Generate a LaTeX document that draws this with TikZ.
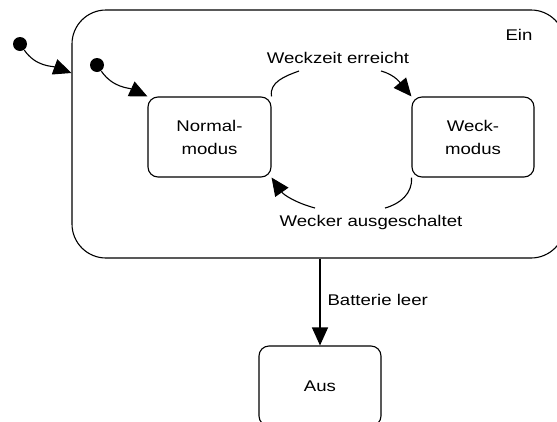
\documentclass[tikz,border=0pt]{standalone}
\usepackage{fontspec}
\setmainfont{Liberation Sans}[FakeStretch=1.2]
\usetikzlibrary{arrows.meta}
\begin{document}
\begin{tikzpicture}[x=1pt,y=1pt,
  line width=1.1pt,
  every node/.style={font=\fontsize{15.5}{23}\selectfont},
  state/.style={draw, rounded corners=10pt, minimum width=123pt, minimum height=80pt, align=center},
  superstate/.style={draw, rounded corners=34pt, minimum width=493pt, minimum height=248pt},
  startdot/.style={circle, fill, inner sep=0pt, minimum size=14pt},
  arr/.style={-{Triangle[length=18pt,width=16pt]}},
  lbl/.style={inner sep=1pt}]
  \useasboundingbox (0,0) rectangle (557,-421);
  \begin{scope}
    \clip (0,0) rectangle (557,-421);
    % composite state "Ein"
    \node[superstate] (ein) at (318.5,-134) {};
    % final state "Aus"
    \node[state, minimum width=122pt] (aus) at (320,-386) {Aus};
  \end{scope}
  \node[lbl] (einlabel) at (519,-35) {Ein};

  % inner states
  \node[state] (normal) at (209.5,-137) {Normal-\\modus};
  \node[state, minimum width=122pt] (weck) at (473,-137) {Weck-\\modus};

  % initial pseudostates
  \node[startdot] (init1) at (20,-44) {};
  \node[startdot] (init2) at (97,-65) {};
  \coordinate (einentry) at (ein.west |- 0,-73);
  \draw[arr] (init1) to[out=-55,in=160] (einentry);
  \draw[arr] (init2) to[out=-55,in=155] (normal.north west);

  % transition Normalmodus -> Weckmodus
  \node[lbl] (lweck) at (338,-58) {Weckzeit erreicht};
  \coordinate (wz1) at (299,-71);
  \coordinate (wz2) at (381,-71);
  \draw (normal.north east) to[out=100,in=200] (wz1);
  \draw[arr] (wz2) to[out=-15,in=130] (weck.north west);

  % transition Weckmodus -> Normalmodus
  \node[lbl] (laus) at (371,-222) {Wecker ausgeschaltet};
  \coordinate (wa1) at (385,-208);
  \coordinate (wa2) at (315,-208);
  \draw (weck.south west) to[out=-85,in=15] (wa1);
  \draw[arr] (wa2) to[out=165,in=-55] (normal.south east);

  % transition Ein -> Aus
  \draw[arr] (ein.south -| aus.north) -- (aus.north);
  \node[lbl, anchor=west] (lbatt) at (326,-300) {Batterie leer};
\end{tikzpicture}
\end{document}
